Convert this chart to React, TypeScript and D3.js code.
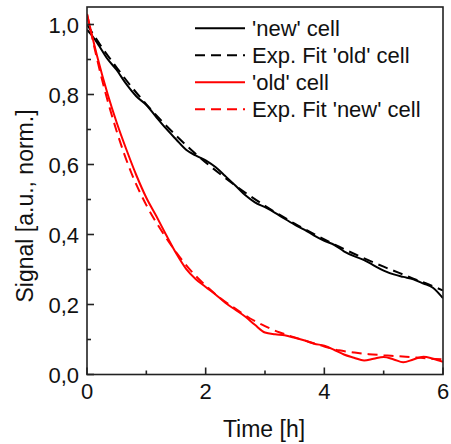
import React from "react";
import * as d3 from "d3";

const newCellT = [0, 0.1, 0.2, 0.33, 0.5, 0.67, 0.83, 1.0, 1.17, 1.33, 1.5, 1.67, 1.83, 2.0, 2.17, 2.33, 2.5, 2.67, 2.83, 3.0, 3.17, 3.33, 3.5, 3.67, 3.83, 4.0, 4.17, 4.33, 4.5, 4.67, 4.83, 5.0, 5.17, 5.33, 5.5, 5.67, 5.83, 6.0];
const newCellV = [0.985, 0.965, 0.94, 0.905, 0.87, 0.828, 0.795, 0.77, 0.735, 0.703, 0.672, 0.642, 0.626, 0.612, 0.592, 0.567, 0.54, 0.512, 0.492, 0.478, 0.462, 0.445, 0.428, 0.413, 0.397, 0.382, 0.37, 0.352, 0.338, 0.327, 0.312, 0.297, 0.286, 0.279, 0.272, 0.26, 0.248, 0.218];

const fitOldT = [0, 0.25, 0.5, 0.75, 1, 1.25, 1.5, 1.75, 2, 2.25, 2.5, 2.75, 3, 3.25, 3.5, 3.75, 4, 4.25, 4.5, 4.75, 5, 5.25, 5.5, 5.75, 6];
const fitOldV = [1.0, 0.935, 0.877, 0.822, 0.772, 0.726, 0.683, 0.643, 0.606, 0.572, 0.54, 0.51, 0.482, 0.456, 0.431, 0.408, 0.386, 0.365, 0.345, 0.326, 0.308, 0.291, 0.274, 0.258, 0.24];

const oldCellT = [0, 0.17, 0.35, 0.5, 0.67, 0.83, 1.0, 1.17, 1.33, 1.5, 1.67, 1.83, 2.0, 2.17, 2.33, 2.5, 2.67, 2.83, 3.0, 3.17, 3.33, 3.5, 3.67, 3.83, 4.0, 4.17, 4.33, 4.5, 4.67, 4.83, 5.0, 5.17, 5.33, 5.5, 5.67, 5.83, 6.0];
const oldCellV = [1.03, 0.91, 0.8, 0.72, 0.64, 0.57, 0.505, 0.452, 0.4, 0.347, 0.302, 0.273, 0.25, 0.228, 0.205, 0.185, 0.165, 0.142, 0.12, 0.115, 0.112, 0.105, 0.097, 0.088, 0.082, 0.07, 0.057, 0.048, 0.04, 0.045, 0.05, 0.043, 0.035, 0.043, 0.051, 0.045, 0.036];

const fitNewT = [0, 0.25, 0.5, 0.75, 1, 1.25, 1.5, 1.75, 2, 2.25, 2.5, 2.75, 3, 3.25, 3.5, 3.75, 4, 4.25, 4.5, 4.75, 5, 5.25, 5.5, 5.75, 6];
const fitNewV = [1.03, 0.845, 0.695, 0.575, 0.484, 0.412, 0.35, 0.297, 0.254, 0.218, 0.188, 0.16, 0.138, 0.12, 0.106, 0.093, 0.08, 0.069, 0.063, 0.058, 0.055, 0.052, 0.049, 0.046, 0.043];

const xTicks = [0, 2, 4, 6];
const xMinor = [1, 3, 5];
const yTicks = [0, 0.2, 0.4, 0.6, 0.8, 1.0];
const yMinor = [0.1, 0.3, 0.5, 0.7, 0.9];

const legendLabels = ["'new' cell", "Exp. Fit 'old' cell", "'old' cell", "Exp. Fit 'new' cell"];
const xTitle = "Time [h]";
const yTitle = "Signal [a.u., norm.]";

const FONT = "'Liberation Sans', Arial, Helvetica, sans-serif";

export default function App() {
  const W = 451, H = 444;
  const left = 87, right = 443, top = 7, bottom = 374.5;
  const x = d3.scaleLinear().domain([0, 6]).range([left, right]);
  const y = d3.scaleLinear().domain([0, 1.05]).range([bottom, top]);
  const fmt = (v: number) => d3.format(".1f")(v).replace(".", ",");

  const mk = (ts: number[], vs: number[], curve: d3.CurveFactory) => {
    const pts: [number, number][] = ts.map((t, i) => [t, vs[i]]);
    return d3.line<[number, number]>().x((p) => x(p[0])).y((p) => y(p[1])).curve(curve)(pts) || "";
  };

  const series = [
    { d: mk(newCellT, newCellV, d3.curveMonotoneX), color: "#000", dash: undefined },
    { d: mk(fitOldT, fitOldV, d3.curveMonotoneX), color: "#000", dash: "10,6" },
    { d: mk(oldCellT, oldCellV, d3.curveMonotoneX), color: "#ff0000", dash: undefined },
    { d: mk(fitNewT, fitNewV, d3.curveMonotoneX), color: "#ff0000", dash: "10,6" },
  ];

  return (
    <svg width={W} height={H} style={{ position: "absolute", left: 0, top: 0, background: "#fff" }} fontFamily={FONT}>
      <defs>
        <clipPath id="plotclip">
          <rect x={left} y={top} width={right - left} height={bottom - top} />
        </clipPath>
      </defs>
      <rect x={0} y={0} width={W} height={H} fill="#fff" />
      <g clipPath="url(#plotclip)">
        {series.map((s, i) => (
          <path key={i} d={s.d} fill="none" stroke={s.color} strokeWidth={2} strokeDasharray={s.dash} />
        ))}
      </g>
      <rect x={left} y={top} width={right - left} height={bottom - top} fill="none" stroke="#222" strokeWidth={1.6} />
      {xTicks.map((t) => (
        <g key={"x" + t}>
          <line x1={x(t)} x2={x(t)} y1={bottom} y2={bottom - 7} stroke="#222" strokeWidth={1.6} />
          <text x={x(t)} y={399} textAnchor="middle" fontSize={22} fill="#111">{t}</text>
        </g>
      ))}
      {xMinor.map((t) => (
        <line key={"xm" + t} x1={x(t)} x2={x(t)} y1={bottom} y2={bottom - 4} stroke="#222" strokeWidth={1.6} />
      ))}
      {yTicks.map((t) => (
        <g key={"y" + t}>
          <line x1={left} x2={left + 7} y1={y(t)} y2={y(t)} stroke="#222" strokeWidth={1.6} />
          <text x={79} y={y(t) + 8} textAnchor="end" fontSize={22} fill="#111">{fmt(t)}</text>
        </g>
      ))}
      {yMinor.map((t) => (
        <line key={"ym" + t} x1={left} x2={left + 4} y1={y(t)} y2={y(t)} stroke="#222" strokeWidth={1.6} />
      ))}
      <text x={264} y={437} textAnchor="middle" fontSize={23} fill="#111">{xTitle}</text>
      <text transform={`translate(33,206) rotate(-90)`} textAnchor="middle" fontSize={23} fill="#111">{yTitle}</text>
      {legendLabels.map((lab, i) => {
        const ly = 28.3 + i * 27;
        const s = series[i];
        return (
          <g key={"lg" + i}>
            <line x1={195} x2={245} y1={ly} y2={ly} stroke={s.color} strokeWidth={2} strokeDasharray={s.dash} />
            <text x={252} y={ly + 8} fontSize={22} fill="#111">{lab}</text>
          </g>
        );
      })}
    </svg>
  );
}
